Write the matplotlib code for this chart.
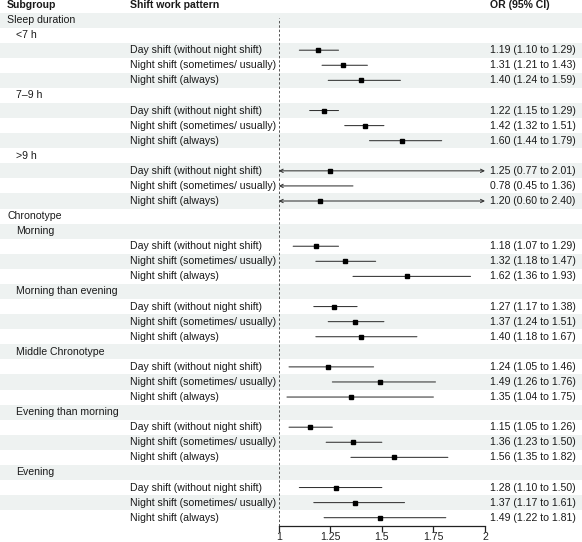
import matplotlib
matplotlib.use("Agg")
import matplotlib.pyplot as plt

plt.rcParams['font.family'] = ['Liberation Sans', 'DejaVu Sans']

# groups and subgroups
groups = ["Sleep duration", "Chronotype"]
subgroups = [
    ["<7 h", "7\u20139 h", ">9 h"],
    ["Morning", "Morning than evening", "Middle Chronotype",
     "Evening than morning", "Evening"],
]
patterns = ["Day shift (without night shift)",
            "Night shift (sometimes/ usually)",
            "Night shift (always)"]

# OR, lower, upper per subgroup (3 shift patterns each)
or_est = [1.19, 1.31, 1.40, 1.22, 1.42, 1.60, 1.25, 0.78, 1.20,
          1.18, 1.32, 1.62, 1.27, 1.37, 1.40, 1.24, 1.49, 1.35,
          1.15, 1.36, 1.56, 1.28, 1.37, 1.49]
or_lo = [1.10, 1.21, 1.24, 1.15, 1.32, 1.44, 0.77, 0.45, 0.60,
         1.07, 1.18, 1.36, 1.17, 1.24, 1.18, 1.05, 1.26, 1.04,
         1.05, 1.23, 1.35, 1.10, 1.17, 1.22]
or_hi = [1.29, 1.43, 1.59, 1.29, 1.51, 1.79, 2.01, 1.36, 2.40,
         1.29, 1.47, 1.93, 1.38, 1.51, 1.67, 1.46, 1.76, 1.75,
         1.26, 1.50, 1.82, 1.50, 1.61, 1.81]

xticks = [1, 1.25, 1.5, 1.75, 2]
xtick_labels = ["1", "1.25", "1.5", "1.75", "2"]

# build table rows: (subgroup text, indent, pattern text, index into estimates)
rows = []
k = 0
for g, subs in zip(groups, subgroups):
    rows.append((g, 0, "", None))
    for s in subs:
        rows.append((s, 1, "", None))
        for p in patterns:
            rows.append(("", 0, p, k))
            k += 1

W, H = 582, 542
fig = plt.figure(figsize=(W / 100, H / 100), dpi=100)
bg = fig.add_axes([0, 0, 1, 1])
bg.set_xlim(0, W)
bg.set_ylim(H, 0)
bg.axis("off")

txt_col = "#1a1a1a"
fs = 7.6
top = 12.5
row_h = 15.08
n = len(rows)

# header
bg.text(7, 5.5, "Subgroup", fontsize=fs, fontweight="bold", color=txt_col, va="center")
bg.text(130, 5.5, "Shift work pattern", fontsize=fs, fontweight="bold", color=txt_col, va="center")
bg.text(490, 5.5, "OR (95% CI)", fontsize=fs, fontweight="bold", color=txt_col, va="center")

for i, (sub, indent, pat, idx) in enumerate(rows):
    yc = top + (i + 0.5) * row_h
    if i % 2 == 0:
        bg.axhspan(top + i * row_h, top + (i + 1) * row_h, color="#eef2f1", lw=0, zorder=0)
    if sub:
        bg.text(7 + 9 * indent, yc, sub, fontsize=fs, color=txt_col, va="center")
    if pat:
        bg.text(130, yc, pat, fontsize=fs, color=txt_col, va="center")
    if idx is not None:
        s = f"{or_est[idx]:.2f} ({or_lo[idx]:.2f} to {or_hi[idx]:.2f})"
        bg.text(490, yc, s, fontsize=fs, color=txt_col, va="center")

# forest panel
x0, x1 = 278.7, 485.0
y_bot = top + n * row_h
ax = fig.add_axes([x0 / W, 1 - 526 / H, (x1 - x0) / W, (526 - top) / H])
ax.patch.set_alpha(0)
ax.set_xlim(1, 2)
ax.set_ylim(n - 0.5 + (526 - y_bot) / row_h, -0.5)
for sp in ["top", "right", "left"]:
    ax.spines[sp].set_visible(False)
ax.spines["bottom"].set_linewidth(0.9)
ax.spines["bottom"].set_color("#222222")
ax.set_yticks([])
ax.set_xticks(xticks)
ax.set_xticklabels(xtick_labels)
ax.tick_params(axis="x", length=4, width=0.9, labelsize=fs, colors="#222222", pad=0.5)

ax.axvline(1, color="#555555", lw=0.7, ls=(0, (2.5, 2)), ymin=0, ymax=1 - 5 / (526 - top))

for i, (sub, indent, pat, idx) in enumerate(rows):
    if idx is None:
        continue
    lo, hi, est = or_lo[idx], or_hi[idx], or_est[idx]
    lo_c, hi_c = max(lo, 1), min(hi, 2)
    style = "-"
    if lo < 1 and hi > 2:
        style = "<->"
    elif lo < 1:
        style = "<-"
    elif hi > 2:
        style = "->"
    ax.annotate("", xy=(hi_c, i), xytext=(lo_c, i),
                arrowprops=dict(arrowstyle=style, lw=0.75, color="#333333",
                                shrinkA=0, shrinkB=0, mutation_scale=6),
                annotation_clip=False)
    if 1 <= est <= 2:
        ax.plot(est, i, marker="s", ms=2.6, color="black", zorder=3)

fig.savefig("out.png", dpi=100)
